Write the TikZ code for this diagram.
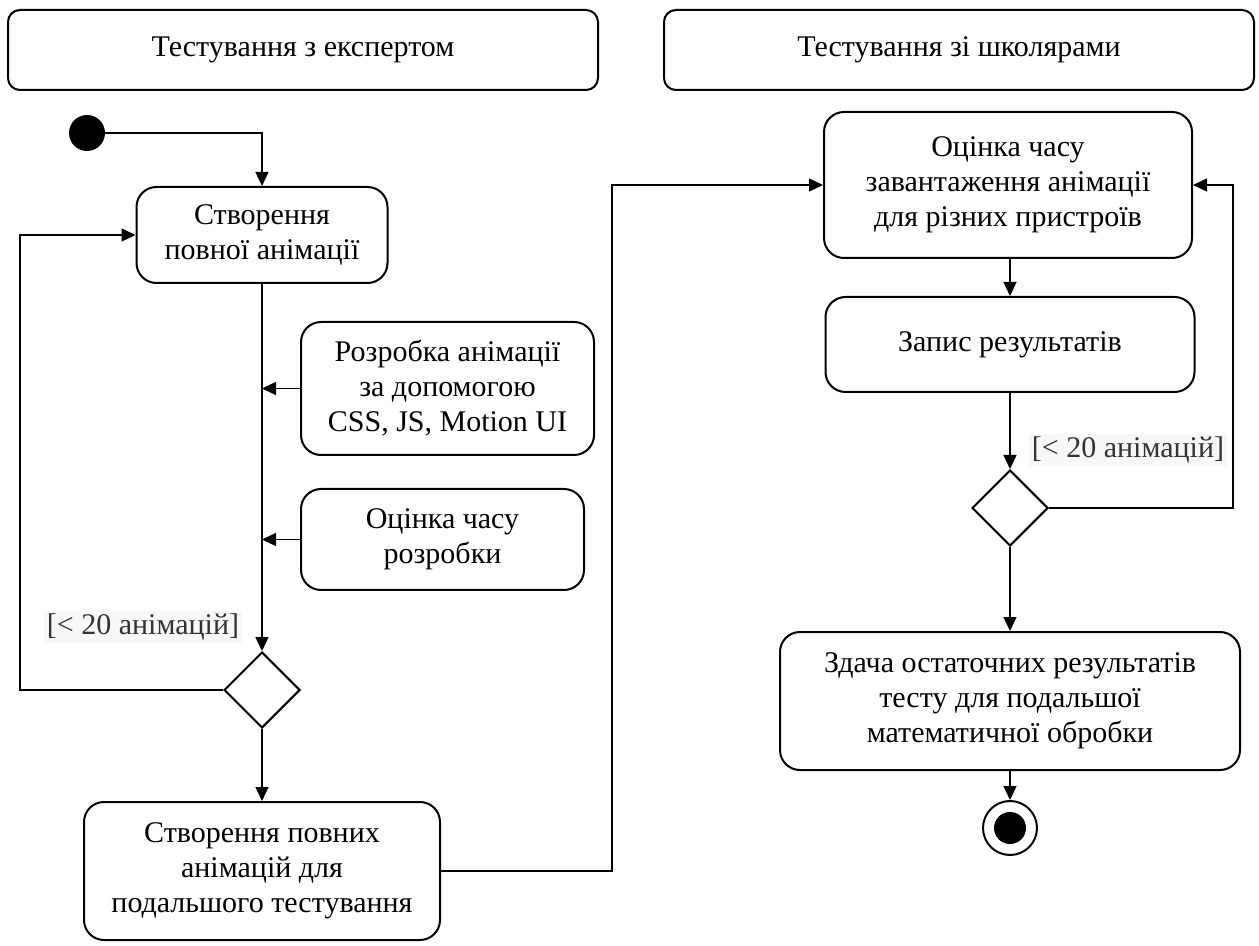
\documentclass[tikz,border=0pt]{standalone}
\usepackage{fontspec}
\setmainfont{Liberation Serif}
\usetikzlibrary{shapes.geometric,arrows.meta}

\begin{document}
\begin{tikzpicture}[x=0.5pt,y=-0.5pt,
  font=\fontsize{15pt}{17.5pt}\selectfont,
  lane/.style={draw,line width=1pt,rounded corners=6pt,minimum width=295pt,minimum height=40pt},
  act/.style={draw,line width=1pt,rounded corners=10pt,align=center,inner sep=0pt},
  choice/.style={draw,diamond,line width=1pt,minimum width=38pt,minimum height=38pt,inner sep=0pt},
  guard/.style={fill=gray!6,text=black!80,inner sep=1.5pt},
  flow/.style={line width=0.7pt,-{Triangle[length=7pt,width=6.5pt]}}]
\useasboundingbox (0,0) rectangle (1259,946);
% swimlane headers
\node [lane] (lexpert) at (303,50) {Тестування з експертом};
\node [lane] (lpupils) at (959,50) {Тестування зі школярами};
% left lane
\node [circle,fill,minimum size=18pt,inner sep=0pt] (start) at (87,133) {};
\node [act,minimum width=125.5pt,minimum height=48pt] (create) at (262,235) {Створення\\повної анімації};
\node [act,minimum width=146.5pt,minimum height=66.5pt] (develop) at (447.5,388.5) {Розробка анімації\\за допомогою\\CSS, JS, Motion UI};
\node [act,minimum width=141.5pt,minimum height=50.5pt] (devtime) at (442.5,539.5) {Оцінка часу\\розробки};
\node [choice] (check1) at (262,690) {};
\node [guard] (guard1) at (143,627) {[< 20 анімацій]};
\node [act,minimum width=178pt,minimum height=69pt] (full) at (262,871) {Створення повних\\анімацій для\\подальшого тестування};
% right lane
\node [act,minimum width=184pt,minimum height=73pt] (loadtime) at (1008,185) {Оцінка часу\\завантаження анімації\\для різних пристроїв};
\node [act,minimum width=184.5pt,minimum height=47.5pt] (record) at (1010,344.5) {Запис результатів};
\node [choice] (check2) at (1010,508) {};
\node [guard] (guard2) at (1128,450) {[< 20 анімацій]};
\node [act,minimum width=230pt,minimum height=69pt] (final) at (1010,701) {Здача остаточних результатів\\тесту для подальшої\\математичної обробки};
\node [circle,draw,line width=1pt,minimum size=27pt,inner sep=0pt] (end) at (1010,828) {};
\fill (end.center) circle (8pt);
\coordinate (loopL) at (20,0);
\coordinate (passX) at (612,0);
\coordinate (loopR) at (1233,0);
% connectors
\draw [flow] (start.east) -| (create.north);
\draw [flow] (create.south) -- (check1.north);
\draw [flow] (develop.west) -- (develop.west -| create.south);
\draw [flow] (devtime.west) -- (devtime.west -| create.south);
\draw [flow] (check1.west) -- (check1.west -| loopL) |- (create.west);
\draw [flow] (check1.south) -- (full.north);
\draw [flow] (full.east) -- (full.east -| passX) |- (loadtime.west);
\draw [flow] (loadtime.south -| record.north) -- (record.north);
\draw [flow] (record.south) -- (check2.north);
\draw [flow] (check2.east) -- (check2.east -| loopR) |- (loadtime.east);
\draw [flow] (check2.south) -- (final.north);
\draw [flow] (final.south) -- (end.north);
\end{tikzpicture}
\end{document}
